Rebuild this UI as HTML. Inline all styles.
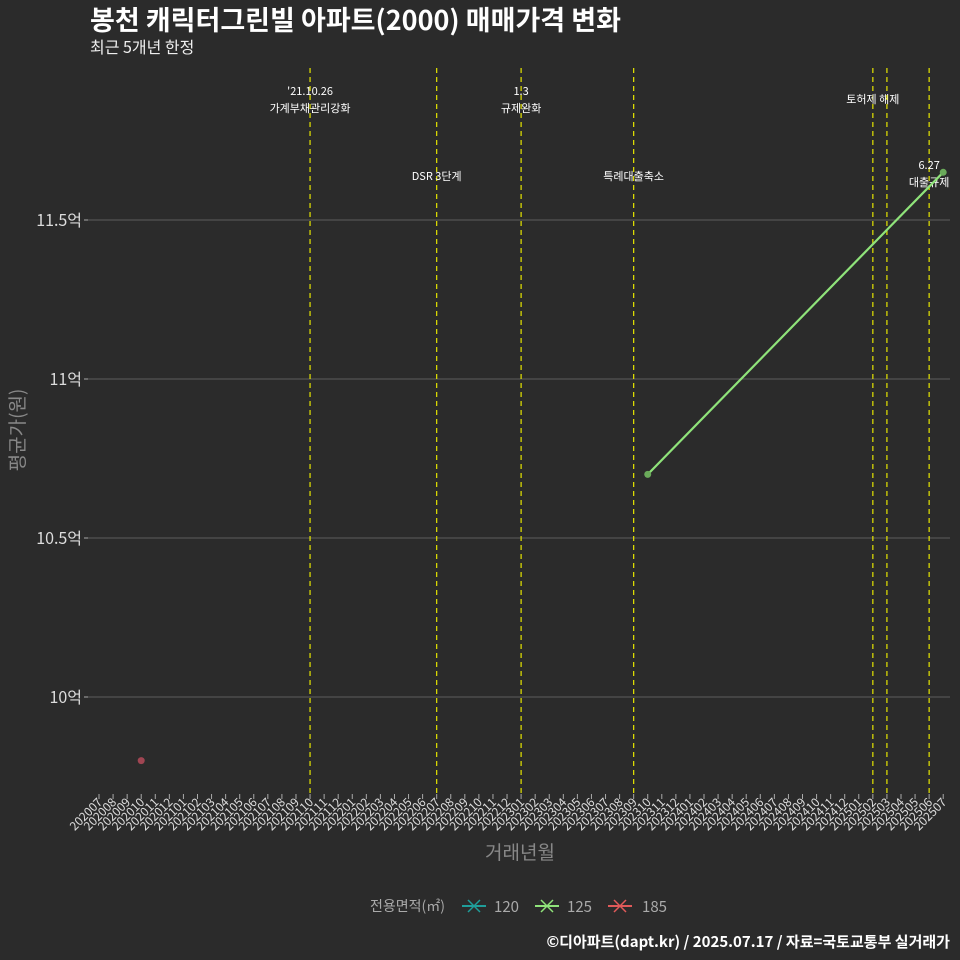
<!DOCTYPE html>
<html><head><meta charset="utf-8"><style>
body{margin:0;background:#2b2b2b}
svg{display:block;font-family:"Noto Sans CJK KR","Liberation Sans",sans-serif}
</style></head><body>
<svg id="c" width="960" height="960" viewBox="0 0 960 960">
<rect width="960" height="960" fill="#2b2b2b"/>
<text x="90" y="30" fill="#fff" font-size="27" font-weight="bold">봉천 캐릭터그린빌 아파트(2000) 매매가격 변화</text>
<text x="90" y="53" fill="#eee" font-size="16">최근 5개년 한정</text>
<g id="grid"></g><g id="events"></g><g id="marks"></g><g id="xaxis"></g>
<text transform="translate(24,430) rotate(-90)" text-anchor="middle" fill="#888" font-size="19">평균가(원)</text>
<text x="520" y="859" text-anchor="middle" fill="#888" font-size="19">거래년월</text>
<g>
<text x="370" y="911" fill="#aaa" font-size="14">전용면적(㎡)</text>
<g><line x1="462" y1="906" x2="486" y2="906" stroke="#1f9e9a" stroke-width="2"/><path d="M468 900L480 912M480 900L468 912" stroke="#1f9e9a" stroke-width="1.5"/><text x="494" y="912" fill="#aaa" font-size="15">120</text></g>
<g><line x1="535" y1="906" x2="559" y2="906" stroke="#8fe37a" stroke-width="2"/><path d="M541 900L553 912M553 900L541 912" stroke="#8fe37a" stroke-width="1.5"/><text x="567" y="912" fill="#aaa" font-size="15">125</text></g>
<g><line x1="608" y1="906" x2="632" y2="906" stroke="#e05a5a" stroke-width="2"/><path d="M614 900L626 912M626 900L614 912" stroke="#e05a5a" stroke-width="1.5"/><text x="642" y="912" fill="#aaa" font-size="15">185</text></g>
</g>
<text x="950" y="947" text-anchor="end" fill="#fff" font-size="15" font-weight="bold">©디아파트(dapt.kr) / 2025.07.17 / 자료=국토교통부 실거래가</text>
</svg>
<script>
const yTicks=[10,10.5,11,11.5];
const yTickLabels=["10억","10.5억","11억","11.5억"];
const s125Months=["202310","202507"];
const s125Values=[10.70,11.65];
const s185Months=["202010"];
const s185Values=[9.80];
const eventMonths=["202110","202207","202301","202309","202502","202503","202506"];
const eventLabels=[["'21.10.26","가계부채관리강화"],["DSR 3단계"],["1.3","규제완화"],["특례대출축소"],["토허제 해제"],[],["6.27","대출규제"]];
const eventLabelY=[95,180,95,180,103,0,169];
const months=[];
for(let y=2020;y<=2025;y++)for(let m=1;m<=12;m++){const k=y*100+m;if(k>=202007&&k<=202507)months.push(String(k));}
const NS="http://www.w3.org/2000/svg";
const X=m=>99+months.indexOf(m)*14.07;
const Y=v=>697-(v-10)*318;
function el(t,a,p){const e=document.createElementNS(NS,t);for(const k in a)e.setAttribute(k,a[k]);p.appendChild(e);return e;}
const grid=document.getElementById('grid'),ev=document.getElementById('events'),mk=document.getElementById('marks'),xa=document.getElementById('xaxis');
yTicks.forEach((v,i)=>{
 const l=el('line',{x1:88,x2:950,y1:Y(v),y2:Y(v),stroke:'#5e5e5e','stroke-width':1},grid);
 
 
 const tk=el('line',{x1:84,x2:88,y1:Y(v),y2:Y(v),stroke:'#aaa'},grid);
 
 
 const t=el('text',{x:82,y:Y(v)+6,'text-anchor':'end',fill:'#ddd','font-size':16},grid);
 t.textContent=yTickLabels[i];
 
 
});
months.forEach(m=>{
 const x=X(m);
 const tk=el('line',{x1:x,x2:x,y1:794,y2:799,stroke:'#aaa'},xa);
 
 
 const t=el('text',{transform:`translate(${x+4},803) rotate(-45)`,'text-anchor':'end',fill:'#ddd','font-size':12},xa);
 t.textContent=m;
 
 
});
eventMonths.forEach((m,i)=>{
 const x=X(m);
 const l=el('line',{x1:x,x2:x,y1:68,y2:796,stroke:'#e6e600','stroke-width':1.2,'stroke-dasharray':'5,4'},ev);
 
 
 eventLabels[i].forEach((s,j)=>{
  const t=el('text',{x:x,y:eventLabelY[i]+j*17,'text-anchor':'middle',fill:'#fff','font-size':11},ev);
  t.textContent=s;
  
  
 });
});
const pts=s125Months.map((m,i)=>X(m)+','+Y(s125Values[i])).join(' ');
const pl=el('polyline',{points:pts,fill:'none',stroke:'#8fe37a','stroke-width':2.2},mk);


s125Months.forEach((m,i)=>{
 const c=el('circle',{cx:X(m),cy:Y(s125Values[i]),r:3.5,fill:'#6aaa5a'},mk);
 
 
});
s185Months.forEach((m,i)=>{
 const c=el('circle',{cx:X(m),cy:Y(s185Values[i]),r:3.5,fill:'#a04552'},mk);
 
 
});
</script>
</body></html>
